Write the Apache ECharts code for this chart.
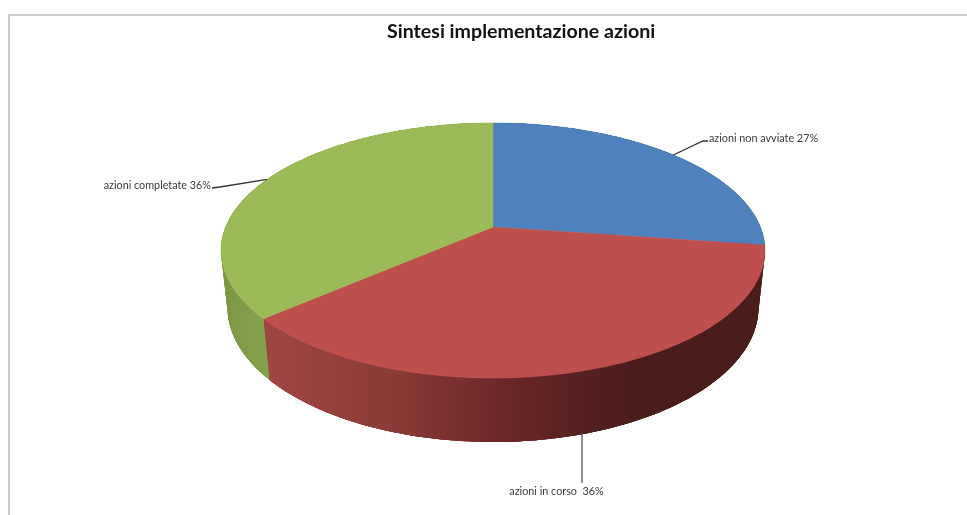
<!DOCTYPE html>
<html>
<head>
<meta charset="utf-8">
<style>html,body{margin:0;padding:0;background:#fff}#c{width:967px;height:515px}</style>
<script src="https://cdn.jsdelivr.net/npm/echarts@6/dist/echarts.min.js"></script>
</head>
<body>
<div id="c"></div>
<script>
// Data
const titleText = 'Sintesi implementazione azioni';
const categories = ['azioni non avviate', 'azioni in corso ', 'azioni completate'];
const values = [27, 36, 36];

// Styles
const topColors = ['#4F81BD', '#BE4F4C', '#9BBB59'];
const FONT = 'Lato, "Open Sans", sans-serif';

// Perspective pie geometry
const CX = 493, CY = 227, A = 267.3, B = 123.2, K = 0.1843, DEPTH = 57.2, M = 0.0235;
// Label layout: text position, alignment and leader elbow points
const labelLayout = [
  { x: 709, y: 139, align: 'left', elbow: [[703, 141], [708, 141]], color: '#333' },
  { x: 556.5, y: 492, align: 'center', elbow: [[582, 483]], color: '#555', vertical: true },
  { x: 211, y: 186, align: 'right', elbow: [[220, 187], [212, 188]], color: '#333' }
];

const total = values.reduce((a, b) => a + b, 0);
const starts = [];
values.reduce((acc, v, i) => { starts[i] = acc; return acc + v; }, 0);
const angle = v => v / total * Math.PI * 2;

function project(t, low) {
  const X = Math.sin(t), Z = Math.cos(t);
  const w = 1 + K * Z + (low ? M : 0);
  return [CX + A * X / w, CY + (-B * Z + (low ? DEPTH : 0)) / w];
}
function arc(a, b, low) {
  const n = Math.max(2, Math.ceil((b - a) / 0.02));
  const pts = [];
  for (let i = 0; i <= n; i++) pts.push(project(a + (b - a) * i / n, low));
  return pts;
}

const wallFills = [
  '#3f6896',
  new echarts.graphic.LinearGradient(263, 0, 640, 0, [
    { offset: 0, color: '#A04643' }, { offset: 0.36, color: '#8A3A37' },
    { offset: 0.65, color: '#6A2726' }, { offset: 0.85, color: '#552120' },
    { offset: 1, color: '#4A1D1A' }
  ], true),
  new echarts.graphic.LinearGradient(225, 0, 270, 0, [
    { offset: 0, color: '#7C9646' }, { offset: 1, color: '#86A24E' }
  ], true)
];

function renderWall(params, api) {
  const i = params.dataIndex;
  const a = angle(starts[i]), b = angle(starts[i] + api.value(0));
  const upper = arc(a, b, false), lower = arc(a, b, true);
  const children = [{ type: 'polygon',
    shape: { points: upper.concat(lower.slice().reverse()) },
    style: { fill: wallFills[i], stroke: null } }];
  const span = 6;
  for (let k = 0; k < upper.length - 1; k += 2) {
    const e = Math.min(k + span, upper.length - 1);
    children.push({ type: 'polygon',
      shape: { points: upper.slice(k, e + 1).concat(lower.slice(k, e + 1).reverse()) },
      style: { fill: wallFills[i], stroke: null } });
  }
  return { type: 'group', children };
}
function renderTop(params, api) {
  const i = params.dataIndex;
  const a = angle(starts[i]), b = angle(starts[i] + api.value(0));
  const pts = [[CX, CY]].concat(arc(a, b, false));
  return { type: 'polygon', shape: { points: pts },
    style: { fill: topColors[i], stroke: topColors[i], lineWidth: 0.5 } };
}
function renderLabel(params, api) {
  const i = params.dataIndex, L = labelLayout[i];
  const mid = angle(starts[i] + api.value(0) / 2);
  const anchor = project(mid, !!L.vertical);
  const start = L.vertical ? [L.elbow[0][0], anchor[1] - 1] : anchor;
  return { type: 'group', children: [
    { type: 'polyline', shape: { points: [start].concat(L.elbow) },
      style: { stroke: L.color, lineWidth: 1.3, fill: null } },
    { type: 'text', x: L.x, y: L.y,
      style: { text: categories[i] + ' ' + api.value(0) + '%', fill: '#3a3a3a',
        font: '10.8px ' + FONT, align: L.align, verticalAlign: 'middle' } }
  ] };
}

const chart = echarts.init(document.getElementById('c'), null, { renderer: 'canvas' });
const seriesData = values.map((v, i) => ({ name: categories[i], value: [v] }));
chart.setOption({
  animation: false,
  backgroundColor: '#fff',
  title: { text: titleText, left: 382, top: 17,
    textStyle: { fontFamily: FONT, fontSize: 19.6, fontWeight: 'bold', color: '#111' } },
  graphic: [
    { type: 'polyline', silent: true,
      shape: { points: [[9, 515], [9, 15], [967, 15]] },
      style: { stroke: '#BDBDBD', lineWidth: 1.6, fill: null } }
  ],
  series: [
    { type: 'custom', coordinateSystem: 'none', silent: true, z: 2, renderItem: renderWall, data: seriesData },
    { type: 'custom', coordinateSystem: 'none', silent: true, z: 3, renderItem: renderTop, data: seriesData },
    { type: 'custom', coordinateSystem: 'none', silent: true, z: 4, renderItem: renderLabel, data: seriesData }
  ]
});
</script>
</body>
</html>
